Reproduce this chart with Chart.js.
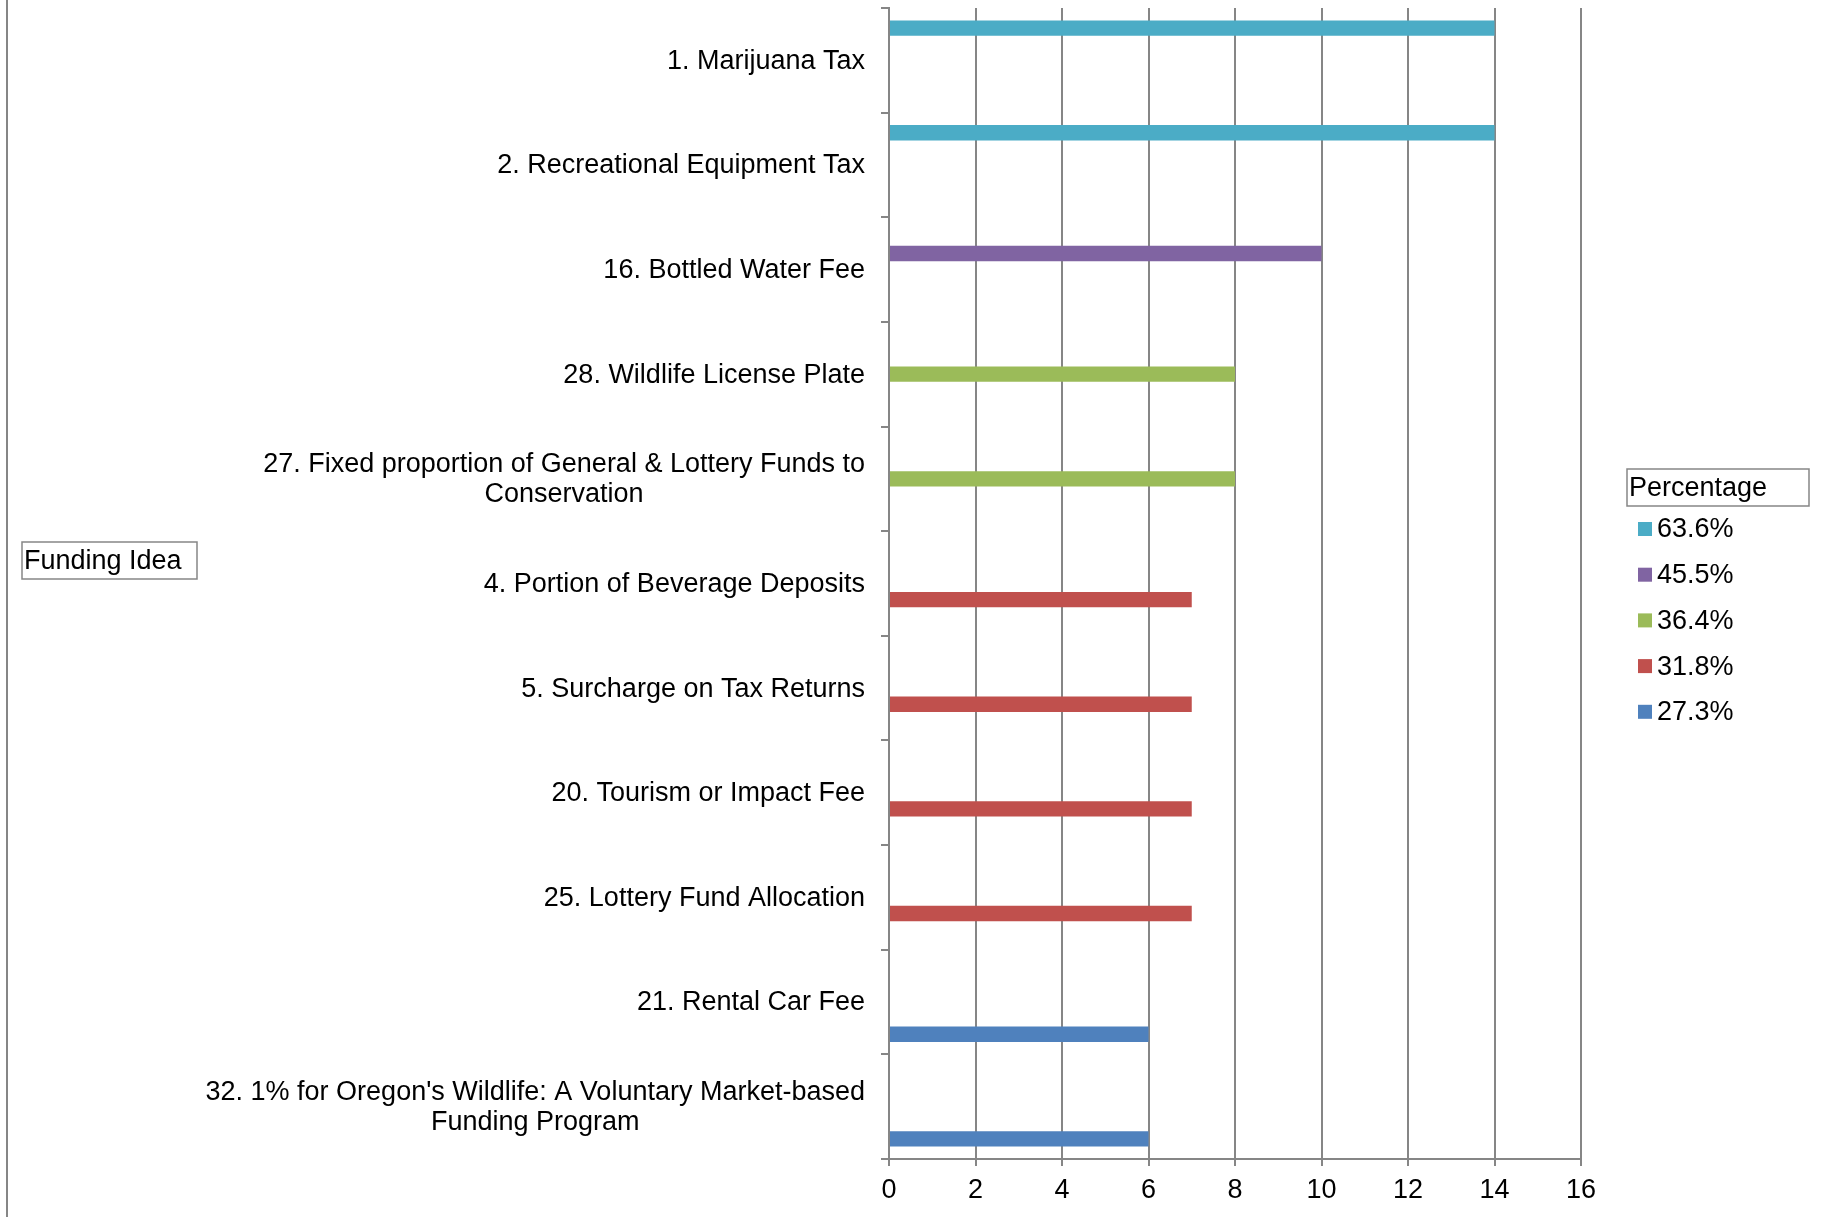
<!DOCTYPE html>
<html lang="en">
<head>
  <meta charset="UTF-8">
  <title>Funding Idea by Percentage</title>
  <style>
    body { margin: 0; background: #fff; }
    canvas { display: block; }
  </style>
</head>
<body>
  <canvas id="barChart" width="1826" height="1217"></canvas>

<script src="https://cdn.jsdelivr.net/npm/chart.js"></script>
<script>
  // category labels (one array of lines per funding idea)
  const categories = [
    ['1. Marijuana Tax'],
    ['2. Recreational Equipment Tax'],
    ['16. Bottled Water Fee'],
    ['28. Wildlife License Plate'],
    ['27. Fixed proportion of General & Lottery Funds to', 'Conservation'],
    ['4. Portion of Beverage Deposits'],
    ['5. Surcharge on Tax Returns'],
    ['20. Tourism or Impact Fee'],
    ['25. Lottery Fund Allocation'],
    ['21. Rental Car Fee'],
    ["32. 1% for Oregon's Wildlife: A Voluntary Market-based", 'Funding Program']
  ]
  const seriesLabels = ['63.6%', '45.5%', '36.4%', '31.8%', '27.3%']
  const seriesColors = ['#4BACC6', '#8064A2', '#9BBB59', '#C0504D', '#4F81BD']
  // votes per idea, one series per percentage group
  const pct636 = [14, 14, null, null, null, null, null, null, null, null, null]
  const pct455 = [null, null, 10, null, null, null, null, null, null, null, null]
  const pct364 = [null, null, null, 8, 8, null, null, null, null, null, null]
  const pct318 = [null, null, null, null, null, 7, 7, 7, 7, null, null]
  const pct273 = [null, null, null, null, null, null, null, null, null, 6, 6]
  const xTicks = [0, 2, 4, 6, 8, 10, 12, 14, 16]

  const FONT = '"Liberation Sans", Arial, sans-serif'
  const GREY = '#868686'

  const decor = {
    id: 'decor',
    afterDraw(chart) {
      const ctx = chart.ctx
      const yScale = chart.scales.y
      ctx.save()
      // outer frame edge on the left
      ctx.strokeStyle = GREY
      ctx.lineWidth = 2
      ctx.beginPath()
      ctx.moveTo(7, 0)
      ctx.lineTo(7, 1217)
      ctx.stroke()

      // category labels, lines centred within their block
      ctx.font = '27px ' + FONT
      ctx.fillStyle = '#000'
      ctx.textBaseline = 'middle'
      ctx.textAlign = 'center'
      const right = 865
      categories.forEach((lines, i) => {
        const cy = yScale.getPixelForValue(i) + 1
        const w = Math.max(...lines.map(l => ctx.measureText(l).width))
        lines.forEach((l, k) => {
          ctx.fillText(l, right - w / 2, cy + (k - (lines.length - 1) / 2) * 30)
        })
      })

      // axis title box
      ctx.textAlign = 'left'
      ctx.lineWidth = 1.5
      ctx.strokeRect(22, 542, 175, 37)
      ctx.fillText('Funding Idea', 24, 562)

      // legend
      ctx.strokeRect(1627, 469, 182, 37)
      ctx.fillText('Percentage', 1629, 489)
      chart.data.datasets.forEach((ds, i) => {
        const cy = 529 + i * 45.7
        ctx.fillStyle = ds.backgroundColor
        ctx.fillRect(1638, cy - 7, 14, 14)
        ctx.fillStyle = '#000'
        ctx.fillText(ds.label, 1657, cy + 1)
      })
      ctx.restore()
    }
  }

  const seriesData = [pct636, pct455, pct364, pct318, pct273]
  const datasets = seriesData.map((d, i) => ({
    label: seriesLabels[i],
    data: d,
    backgroundColor: seriesColors[i],
    categoryPercentage: 5 / 6.5,
    barPercentage: 0.95
  }))

  new Chart(document.getElementById('barChart'), {
    type: 'bar',
    data: { labels: categories.map(c => c.join(' ')), datasets: datasets },
    options: {
      indexAxis: 'y',
      responsive: false,
      animation: false,
      layout: { padding: { top: 8, right: 245, left: 0, bottom: 0 } },
      plugins: {
        legend: { display: false },
        tooltip: { enabled: false }
      },
      scales: {
        x: {
          min: 0,
          max: 16,
          afterBuildTicks: s => { s.ticks = xTicks.map(v => ({ value: v })) },
          afterFit: s => { s.height = 58 },
          grid: { color: GREY, lineWidth: 2, tickLength: 7 },
          border: { color: GREY, width: 2 },
          ticks: { color: '#000', font: { size: 27, family: FONT }, padding: 8 }
        },
        y: {
          afterFit: s => { s.width = 889 },
          grid: { offset: true, drawOnChartArea: false, color: GREY, lineWidth: 2, tickLength: 8 },
          border: { color: GREY, width: 2 },
          ticks: { display: false }
        }
      }
    },
    plugins: [decor]
  })
</script>
</body>
</html>
